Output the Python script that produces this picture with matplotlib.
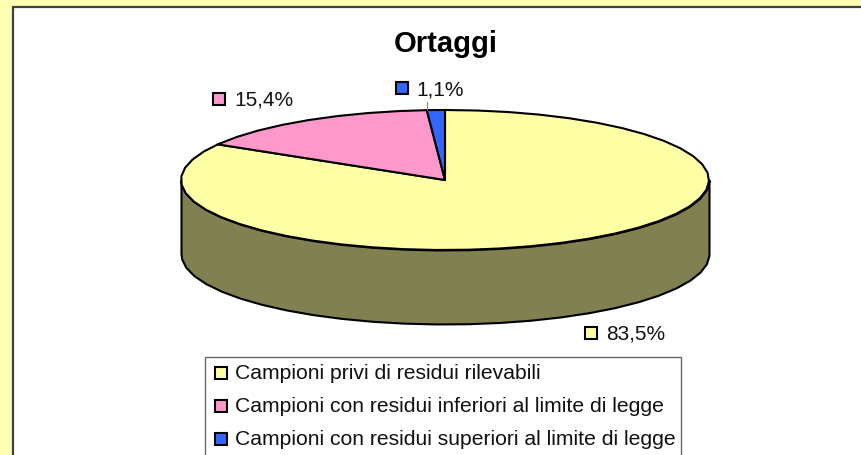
import numpy as np
import matplotlib
matplotlib.use('Agg')
import matplotlib.pyplot as plt
from matplotlib.patches import Rectangle

plt.rcParams['font.family'] = ['Liberation Sans', 'DejaVu Sans']

# dati
titolo = 'Ortaggi'
categorie = ['Campioni privi di residui rilevabili',
             'Campioni con residui inferiori al limite di legge',
             'Campioni con residui superiori al limite di legge']
valori = [83.5, 15.4, 1.1]
etichette = ['83,5%', '15,4%', '1,1%']
colori = ['#FFFFA6', '#FF99CC', '#3366FF']
colore_lato = '#808050'
sfondo = '#FFFFB3'
W, H = 861, 456
PASSO = 7  # gradi, il bordo dell'originale e' spezzettato

fig = plt.figure(figsize=(W / 100, H / 100), dpi=100, facecolor=sfondo)

# asse in pixel per cornice
bg = fig.add_axes([0, 0, 1, 1], zorder=1)
bg.set_xlim(0, W)
bg.set_ylim(H, 0)
bg.axis('off')
bg.add_patch(Rectangle((13, 8), W + 20, H + 20, fc='white', ec='#404040', lw=1.6))

# torta: ellisse 528x140 px centrata in (445,181)
ax = fig.add_axes([181 / W, 1 - 251 / H, 528 / W, 140 / H], zorder=2)
ax.patch.set_alpha(0)
ax.set_xlim(-1, 1)
ax.set_ylim(-1, 1)
ax.axis('off')


def arco(a0, a1):
    # angoli in senso orario dalle ore 12, allineati a una griglia fissa
    interni = np.arange(np.ceil(a0 / PASSO) * PASSO, a1, PASSO)
    ang = np.radians(np.concatenate([[a0], interni, [a1]]))
    return np.sin(ang), np.cos(ang)


prof = 74 / 70
xs, ys = arco(90, 270)
ax.fill_between(xs, ys, ys - prof, fc=colore_lato, ec='black', lw=1.5, clip_on=False)

limiti = np.concatenate([[0], np.cumsum(valori)]) * 3.6
for i in range(len(valori)):
    xa, ya = arco(limiti[i], limiti[i + 1])
    ax.fill(np.r_[0, xa], np.r_[0, ya], fc=colori[i], ec='black', lw=1.5, clip_on=False,
            joinstyle='round')

top = fig.add_axes([0, 0, 1, 1], zorder=3)
top.set_xlim(0, W)
top.set_ylim(H, 0)
top.axis('off')
top.patch.set_alpha(0)

top.text(446, 44, titolo, fontsize=21, fontweight='bold', ha='center', va='center', color='black')

# etichette dati
pos_q = [(591, 334), (219, 100), (402, 89)]
pos_t = [(606, 334), (234, 100), (416, 90)]
for lab, c, q, p in zip(etichette, colori, pos_q, pos_t):
    top.add_patch(Rectangle((q[0] - 6, q[1] - 6), 12, 12, fc=c, ec='black', lw=1.5))
    top.text(p[0], p[1], lab, fontsize=15, ha='left', va='center', color='#111111')
top.plot([427, 427], [103, 111], color='#777777', lw=0.7)

# legenda
top.add_patch(Rectangle((205, 358), 476, H + 20, fc='white', ec='#666666', lw=1))
for cat, c, y in zip(categorie, colori, [374, 407, 440]):
    top.add_patch(Rectangle((215, y - 6), 12, 12, fc=c, ec='black', lw=1.5))
    top.text(235, y, cat, fontsize=15.2, ha='left', va='center', color='#111111')

fig.savefig('out.png', dpi=100, facecolor=sfondo)
